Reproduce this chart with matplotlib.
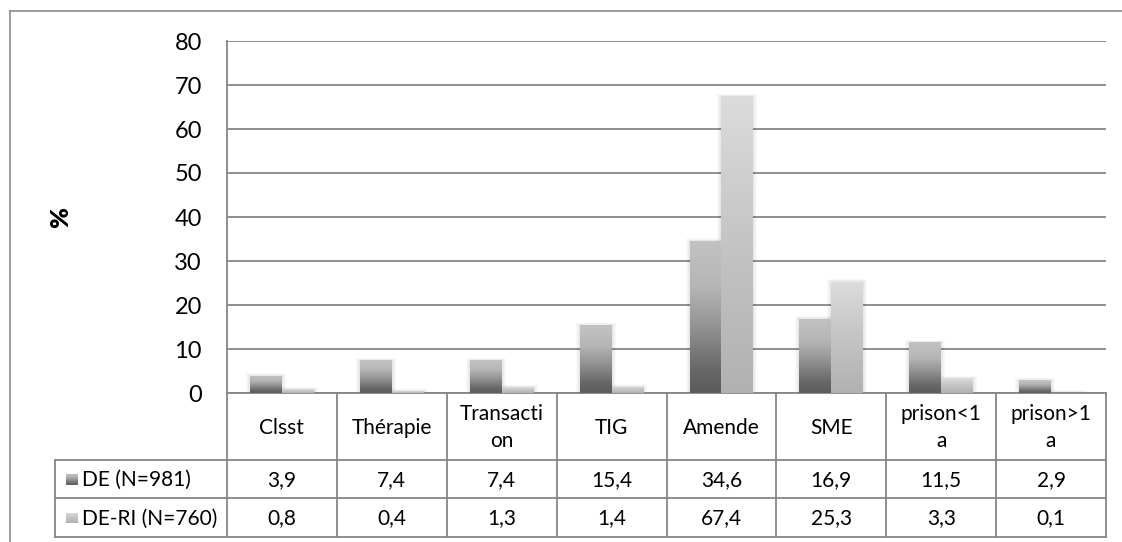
import numpy as np
import matplotlib
matplotlib.use("Agg")
import matplotlib.pyplot as plt
from matplotlib.colors import LinearSegmentedColormap
from matplotlib.lines import Line2D
from matplotlib.patches import Rectangle

plt.rcParams['font.family'] = ['Lato', 'DejaVu Sans']

# ---- data ----
categories = ["Clsst", "Thérapie", "Transacti\non", "TIG", "Amende", "SME", "prison<1\na", "prison>1\na"]
series_names = ["DE (N=981)", "DE-RI (N=760)"]
de_values = [3.9, 7.4, 7.4, 15.4, 34.6, 16.9, 11.5, 2.9]
deri_values = [0.8, 0.4, 1.3, 1.4, 67.4, 25.3, 3.3, 0.1]
y_ticks = [0, 10, 20, 30, 40, 50, 60, 70, 80]
y_label = "%"

W, H = 1122, 542
fig = plt.figure(figsize=(W / 100, H / 100), dpi=100)

def fx(px):
    return px / W

def fy(py):
    return 1 - py / H

LINE = "#868686"

ax_left, ax_right, ax_top, ax_bottom = 227, 1106, 41, 393
ax = fig.add_axes([fx(ax_left), fy(ax_bottom), (ax_right - ax_left) / W, (ax_bottom - ax_top) / H])

n = len(categories)
x = np.arange(n)
bw = 0.29

cmap_de = LinearSegmentedColormap.from_list(
    "de", [(0.0, "#5c5c5c"), (0.15, "#676767"), (0.45, "#959595"), (0.7, "#b6b6b6"), (1.0, "#c2c2c2")])
cmap_ri = LinearSegmentedColormap.from_list(
    "ri", [(0.0, "#b1b1b1"), (0.5, "#c4c4c4"), (1.0, "#dcdcdc")])

bars_de = ax.bar(x - bw / 2, de_values, width=bw, color="none", edgecolor="none", zorder=3)
bars_ri = ax.bar(x + bw / 2, deri_values, width=bw, color="none", edgecolor="none", zorder=3)

grad = np.linspace(0, 1, 256).reshape(-1, 1)
px_x = 8 / (ax_right - ax_left)
px_y = 80 / (ax_bottom - ax_top)
for bars, cmap in ((bars_de, cmap_de), (bars_ri, cmap_ri)):
    for p in bars:
        bx, by, w, h = p.get_x(), p.get_y(), p.get_width(), p.get_height()
        # soft shadow
        for i in range(1, 5):
            ax.add_patch(Rectangle((bx - i * px_x, by), w + 2 * i * px_x, h + i * px_y * 0.6,
                                   facecolor="black", alpha=0.025, edgecolor="none", zorder=2.5))
        im = ax.imshow(grad, extent=[bx, bx + w, by, by + h], origin="lower", aspect="auto",
                       cmap=cmap, vmin=0, vmax=1, zorder=3, interpolation="bilinear")
        im.set_clip_path(p)

ax.set_xlim(-0.5, n - 0.5)
ax.set_ylim(0, 80)
ax.set_yticks(y_ticks)
ax.set_xticks([])
ax.yaxis.grid(True, color=LINE, linewidth=1.3)
ax.set_axisbelow(True)
for s in ("top", "right"):
    ax.spines[s].set_visible(False)
ax.spines["left"].set_visible(False)
ax.spines["bottom"].set_color(LINE)
ax.spines["bottom"].set_linewidth(1.3)
ax.tick_params(axis="y", length=0, pad=18, labelsize=17)
for t in ax.get_yticklabels():
    t.set_color("black")

fig.text(fx(61), fy(217), y_label, rotation=90, ha="center", va="center",
         fontsize=18, fontweight="heavy")

# ---- data table ----
col_w = (ax_right - ax_left) / n
row_hdr_bot, row1_bot, row2_bot = 460, 498, 537
lab_left = 55
TFS = 15

def hline(y, x0, x1):
    fig.add_artist(Line2D([fx(x0), fx(x1)], [fy(y), fy(y)], color=LINE, lw=1.3))

def vline(xp, y0, y1):
    fig.add_artist(Line2D([fx(xp), fx(xp)], [fy(y0), fy(y1)], color=LINE, lw=1.3))

hline(row_hdr_bot, lab_left, ax_right)
hline(row1_bot, lab_left, ax_right)
hline(row2_bot, lab_left, ax_right)
vline(lab_left, row_hdr_bot, row2_bot)
vline(ax_left, ax_top, row2_bot)
for k in range(1, n + 1):
    vline(ax_left + k * col_w, ax_bottom, row2_bot)

for i, c in enumerate(categories):
    fig.text(fx(ax_left + (i + 0.5) * col_w), fy((ax_bottom + row_hdr_bot) / 2 + 1), c,
             ha="center", va="center", fontsize=TFS, linespacing=1.45)

row_centers = [(row_hdr_bot + row1_bot) / 2, (row1_bot + row2_bot) / 2]
for r, (name, vals, cmap) in enumerate(zip(series_names, [de_values, deri_values], [cmap_de, cmap_ri])):
    yc = row_centers[r]
    kax = fig.add_axes([fx(66), fy(yc + 6), 12 / W, 11 / H])
    kax.imshow(grad, origin="lower", aspect="auto", cmap=cmap, vmin=0, vmax=1)
    kax.axis("off")
    fig.text(fx(82), fy(yc + 1), name, ha="left", va="center", fontsize=TFS)
    for i, v in enumerate(vals):
        fig.text(fx(ax_left + (i + 0.5) * col_w), fy(yc + 1), f"{v:.1f}".replace(".", ","),
                 ha="center", va="center", fontsize=TFS)

# outer chart border
fig.add_artist(Line2D([fx(10), fx(10)], [fy(11), fy(542)], color="#8c8c8c", lw=1.2))
fig.add_artist(Line2D([fx(10), fx(1122)], [fy(11), fy(11)], color="#8c8c8c", lw=1.2))

fig.savefig("out.png", dpi=100)
